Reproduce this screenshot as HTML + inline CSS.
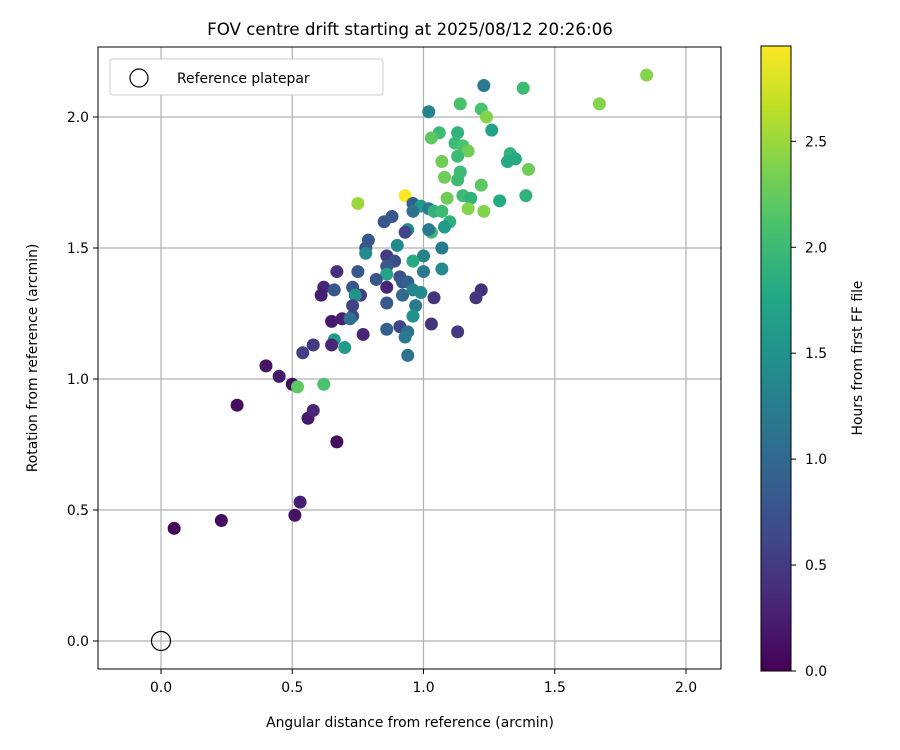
<!DOCTYPE html>
<html><head><meta charset="utf-8"><style>
body{margin:0;background:#fff;}
svg{display:block;font-family:"DejaVu Sans","Liberation Sans",sans-serif;}
</style></head><body>
<svg id="chart" width="900" height="750" viewBox="0 0 900 750">
<defs>
<linearGradient id="vir" x1="0" y1="1" x2="0" y2="0">
<stop offset="0" stop-color="#440154"/><stop offset="0.1" stop-color="#482475"/><stop offset="0.2" stop-color="#414487"/><stop offset="0.3" stop-color="#355f8d"/><stop offset="0.4" stop-color="#2a788e"/><stop offset="0.5" stop-color="#21918c"/><stop offset="0.6" stop-color="#22a884"/><stop offset="0.7" stop-color="#44bf70"/><stop offset="0.8" stop-color="#7ad151"/><stop offset="0.9" stop-color="#bddf26"/><stop offset="1" stop-color="#fde725"/>
</linearGradient>
</defs>
<text x="410" y="35" font-size="16.7" text-anchor="middle">FOV centre drift starting at 2025/08/12 20:26:06</text>
<g id="grid"></g>
<g id="points"></g>
<rect x="98" y="47" width="623" height="622" fill="none" stroke="#000" stroke-width="1"/>
<g id="ticks"></g>
<text x="410" y="727" font-size="13.9" text-anchor="middle">Angular distance from reference (arcmin)</text>
<text x="37" y="358" font-size="13.9" text-anchor="middle" transform="rotate(-90 37 358)">Rotation from reference (arcmin)</text>
<g>
<rect x="110" y="59" width="273" height="36" rx="3" fill="#fff" stroke="#ccc"/>
<circle cx="139" cy="78" r="9" fill="none" stroke="#000" stroke-width="1.2"/>
<text x="177" y="83" font-size="13.9">Reference platepar</text>
</g>
<rect x="761" y="46" width="30" height="625" fill="url(#vir)" stroke="#000" stroke-width="1"/>
<g id="cticks"></g>
<text x="862" y="358" font-size="13.9" text-anchor="middle" transform="rotate(-90 862 358)">Hours from first FF file</text>
</svg>
<script>
const xs=[0.05,0.23,0.29,0.40,0.45,0.50,0.53,0.51,0.56,0.58,0.67,0.52,0.62,0.93,0.75,0.96,0.99,1.02,0.96,0.88,0.85,1.04,1.07,1.10,1.08,1.03,1.02,0.94,0.93,0.79,0.78,0.78,0.90,1.07,0.86,0.89,0.86,1.00,0.96,1.00,1.07,0.67,0.75,0.86,0.82,0.91,0.92,0.94,0.62,0.61,0.66,0.73,0.76,0.74,0.86,0.86,0.92,0.96,0.99,1.04,1.22,1.20,0.73,0.97,0.96,0.65,0.69,0.73,0.72,0.86,0.91,0.94,0.93,1.03,1.13,0.77,0.58,0.54,0.66,0.70,0.65,0.94,
1.02,1.23,1.14,1.22,1.24,1.38,1.67,1.85,1.06,1.03,1.13,1.26,1.12,1.15,1.17,1.13,1.07,1.33,1.32,1.35,1.40,1.14,1.08,1.13,1.22,1.09,1.15,1.18,1.29,1.39,1.17,1.23];
const ys=[0.43,0.46,0.90,1.05,1.01,0.98,0.53,0.48,0.85,0.88,0.76,0.97,0.98,1.70,1.67,1.67,1.66,1.65,1.64,1.62,1.60,1.64,1.64,1.60,1.58,1.56,1.57,1.57,1.56,1.53,1.50,1.48,1.51,1.50,1.47,1.45,1.43,1.47,1.45,1.41,1.42,1.41,1.41,1.40,1.38,1.39,1.37,1.37,1.35,1.32,1.34,1.35,1.32,1.32,1.35,1.29,1.32,1.34,1.33,1.31,1.34,1.31,1.28,1.28,1.24,1.22,1.23,1.24,1.23,1.19,1.20,1.18,1.16,1.21,1.18,1.17,1.13,1.10,1.15,1.12,1.13,1.09,
2.02,2.12,2.05,2.03,2.00,2.11,2.05,2.16,1.94,1.92,1.94,1.95,1.90,1.89,1.87,1.85,1.83,1.86,1.83,1.84,1.80,1.79,1.77,1.76,1.74,1.69,1.70,1.69,1.68,1.70,1.65,1.64];
const hours=[0.05,0.1,0.1,0.15,0.2,0.1,0.25,0.15,0.2,0.3,0.1,2.2,2.1,2.95,2.5,0.9,1.6,1.2,1.1,0.8,0.8,1.9,2.0,1.9,1.6,2.0,1.2,1.4,0.6,0.8,0.8,1.4,1.4,1.2,0.5,0.7,0.8,1.3,1.8,1.2,1.4,0.4,0.8,1.7,0.8,0.7,0.8,0.9,0.3,0.25,0.8,0.8,0.55,1.5,0.3,0.8,1.0,1.3,1.4,0.45,0.4,0.45,0.6,1.2,1.5,0.2,0.25,0.6,1.1,0.9,0.6,1.1,1.2,0.45,0.5,0.3,0.5,0.55,1.6,1.6,0.3,1.1,
1.3,1.2,2.1,2.1,2.4,2.0,2.4,2.4,2.0,2.2,1.9,1.7,2.0,2.1,2.3,2.0,2.3,1.9,1.8,1.8,2.3,2.0,2.3,2.0,2.2,2.3,2.0,1.9,1.8,1.9,2.4,2.4];
const xTicks=[0.0,0.5,1.0,1.5,2.0];
const yTicks=[0.0,0.5,1.0,1.5,2.0];
const cTicks=[0.0,0.5,1.0,1.5,2.0,2.5];
const hMax=2.95;
const NS='http://www.w3.org/2000/svg';
const X=v=>161+v*262.5, Y=v=>641-v*262, C=v=>671-v*(625/hMax);
const vir=[[68,1,84],[72,36,117],[65,68,135],[53,95,141],[42,120,142],[33,145,140],[34,168,132],[68,191,112],[122,209,81],[189,223,38],[253,231,37]];
function col(h){let t=Math.max(0,Math.min(1,h/hMax))*10,i=Math.min(9,Math.floor(t)),f=t-i,a=vir[i],b=vir[i+1];
return 'rgb('+a.map((c,k)=>Math.round(c+(b[k]-c)*f)).join(',')+')';}
function mk(tag,attrs,parent){const e=document.createElementNS(NS,tag);for(const k in attrs)e.setAttribute(k,attrs[k]);parent.appendChild(e);return e;}
const grid=document.getElementById('grid'),ticks=document.getElementById('ticks'),pts=document.getElementById('points'),ct=document.getElementById('cticks');
xTicks.forEach(v=>{
 const l=mk('line',{x1:X(v),x2:X(v),y1:47,y2:669,stroke:'#b0b0b0','stroke-width':1.2},grid);
 
 
 mk('line',{x1:X(v),x2:X(v),y1:669,y2:674,stroke:'#000'},ticks);
 const t=mk('text',{x:X(v),y:692,'font-size':13.9,'text-anchor':'middle'},ticks);t.textContent=v.toFixed(1);
 
 
});
yTicks.forEach(v=>{
 const l=mk('line',{x1:98,x2:721,y1:Y(v),y2:Y(v),stroke:'#b0b0b0','stroke-width':1.2},grid);
 
 
 mk('line',{x1:93,x2:98,y1:Y(v),y2:Y(v),stroke:'#000'},ticks);
 const t=mk('text',{x:89,y:Y(v)+5,'font-size':13.9,'text-anchor':'end'},ticks);t.textContent=v.toFixed(1);
 
 
});
const ref=mk('circle',{cx:X(0),cy:Y(0),r:9.5,fill:'none',stroke:'#000','stroke-width':1.2},pts);


xs.forEach((x,i)=>{
 const c=mk('circle',{cx:X(x),cy:Y(ys[i]),r:6.5,fill:col(hours[i])},pts);
 
 
});
cTicks.forEach(v=>{
 mk('line',{x1:791,x2:796,y1:C(v),y2:C(v),stroke:'#000'},ct);
 const t=mk('text',{x:805,y:C(v)+5,'font-size':13.9},ct);t.textContent=v.toFixed(1);
 
 
});
</script>
</body></html>
